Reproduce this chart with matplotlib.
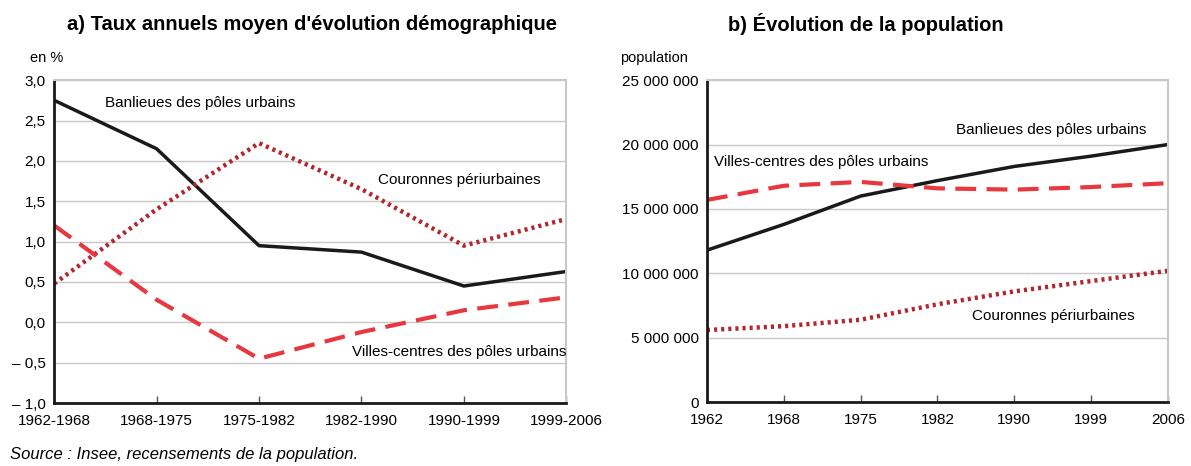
import matplotlib.pyplot as plt

plt.rcParams['font.family'] = ['Liberation Sans Narrow', 'Liberation Sans', 'DejaVu Sans']

# (a) taux annuels moyens d'évolution (en %)
periods = ["1962-1968", "1968-1975", "1975-1982", "1982-1990", "1990-1999", "1999-2006"]
rate_banlieues = [2.75, 2.15, 0.95, 0.87, 0.45, 0.63]
rate_couronnes = [0.48, 1.40, 2.22, 1.65, 0.95, 1.28]
rate_villes = [1.20, 0.28, -0.45, -0.12, 0.15, 0.31]
rate_ticks = [-1.0, -0.5, 0.0, 0.5, 1.0, 1.5, 2.0, 2.5, 3.0]
rate_labels = ["– 1,0", "– 0,5", "0,0", "0,5", "1,0", "1,5", "2,0", "2,5", "3,0"]

# (b) population
years = ["1962", "1968", "1975", "1982", "1990", "1999", "2006"]
pop_banlieues = [11.8e6, 13.8e6, 16.0e6, 17.2e6, 18.3e6, 19.1e6, 20.0e6]
pop_villes = [15.7e6, 16.8e6, 17.1e6, 16.6e6, 16.5e6, 16.7e6, 17.0e6]
pop_couronnes = [5.6e6, 5.9e6, 6.4e6, 7.6e6, 8.6e6, 9.4e6, 10.2e6]
pop_ticks = [0, 5e6, 10e6, 15e6, 20e6, 25e6]
pop_labels = ["0", "5 000 000", "10 000 000", "15 000 000", "20 000 000", "25 000 000"]

BLACK = '#1a1a1a'
RED = '#e8373f'
DARKRED = '#b2262f'
GRID = '#c8c8c8'


def style_axes(ax):
    ax.spines['left'].set_linewidth(2.0)
    ax.spines['bottom'].set_linewidth(2.0)
    ax.spines['left'].set_color(BLACK)
    ax.spines['bottom'].set_color(BLACK)
    ax.spines['top'].set_color(GRID)
    ax.spines['right'].set_color(GRID)
    ax.spines['top'].set_linewidth(1.5)
    ax.spines['right'].set_linewidth(1.5)
    ax.yaxis.grid(True, color=GRID, linewidth=1.0)
    ax.set_axisbelow(True)
    ax.tick_params(axis='y', length=0, labelsize=11, pad=6)
    ax.tick_params(axis='x', direction='in', length=5, width=1, color='#555555', labelsize=11, pad=8)


figure = plt.figure(figsize=(11.91, 4.66), dpi=100)

# (1): left panel
ax1 = figure.add_axes([0.0455, 0.135, 0.430, 0.693])
x1 = range(len(periods))
ax1.plot(x1, rate_banlieues, color=BLACK, linewidth=2.5, solid_joinstyle='miter')
ax1.plot(x1, rate_couronnes, color=DARKRED, linewidth=3.2, linestyle=(0, (0.7, 0.9)))
ax1.plot(x1, rate_villes, color=RED, linewidth=3.0, linestyle=(0, (5, 2.5)))
ax1.set_xlim(0, len(periods) - 1)
ax1.set_ylim(-1.0, 3.0)
ax1.set_xticks(list(x1))
ax1.set_xticklabels(periods)
ax1.set_yticks(rate_ticks)
ax1.set_yticklabels(rate_labels)
style_axes(ax1)
ax1.text(0.5, 2.72, "Banlieues des pôles urbains", fontsize=11, va='center')
ax1.text(3.16, 1.76, "Couronnes périurbaines", fontsize=11, va='center')
ax1.text(2.91, -0.37, "Villes-centres des pôles urbains", fontsize=11, va='center')
figure.text(0.025, 0.875, "en %", fontsize=10.5, va='center')
figure.text(0.262, 0.948, "a) Taux annuels moyen d'évolution démographique",
            fontsize=14.5, fontweight='bold', ha='center', va='center')

# (2): right panel
ax2 = figure.add_axes([0.5936, 0.137, 0.387, 0.691])
x2 = range(len(years))
ax2.plot(x2, pop_banlieues, color=BLACK, linewidth=2.5)
ax2.plot(x2, pop_villes, color=RED, linewidth=3.0, linestyle=(0, (5, 2.5)))
ax2.plot(x2, pop_couronnes, color=DARKRED, linewidth=3.2, linestyle=(0, (0.7, 0.9)))
ax2.set_xlim(0, len(years) - 1)
ax2.set_ylim(0, 25e6)
ax2.set_xticks(list(x2))
ax2.set_xticklabels(years)
ax2.set_yticks(pop_ticks)
ax2.set_yticklabels(pop_labels)
style_axes(ax2)
ax2.text(3.24, 21.1e6, "Banlieues des pôles urbains", fontsize=11, va='center')
ax2.text(0.09, 18.65e6, "Villes-centres des pôles urbains", fontsize=11, va='center')
ax2.text(3.45, 6.66e6, "Couronnes périurbaines", fontsize=11, va='center')
figure.text(0.521, 0.875, "population", fontsize=10.5, va='center')
figure.text(0.727, 0.948, "b) Évolution de la population",
            fontsize=14.5, fontweight='bold', ha='center', va='center')

figure.text(0.008, 0.025, "Source : Insee, recensements de la population.",
            fontsize=12, style='italic', va='center')

plt.savefig('out.png', dpi=100)
